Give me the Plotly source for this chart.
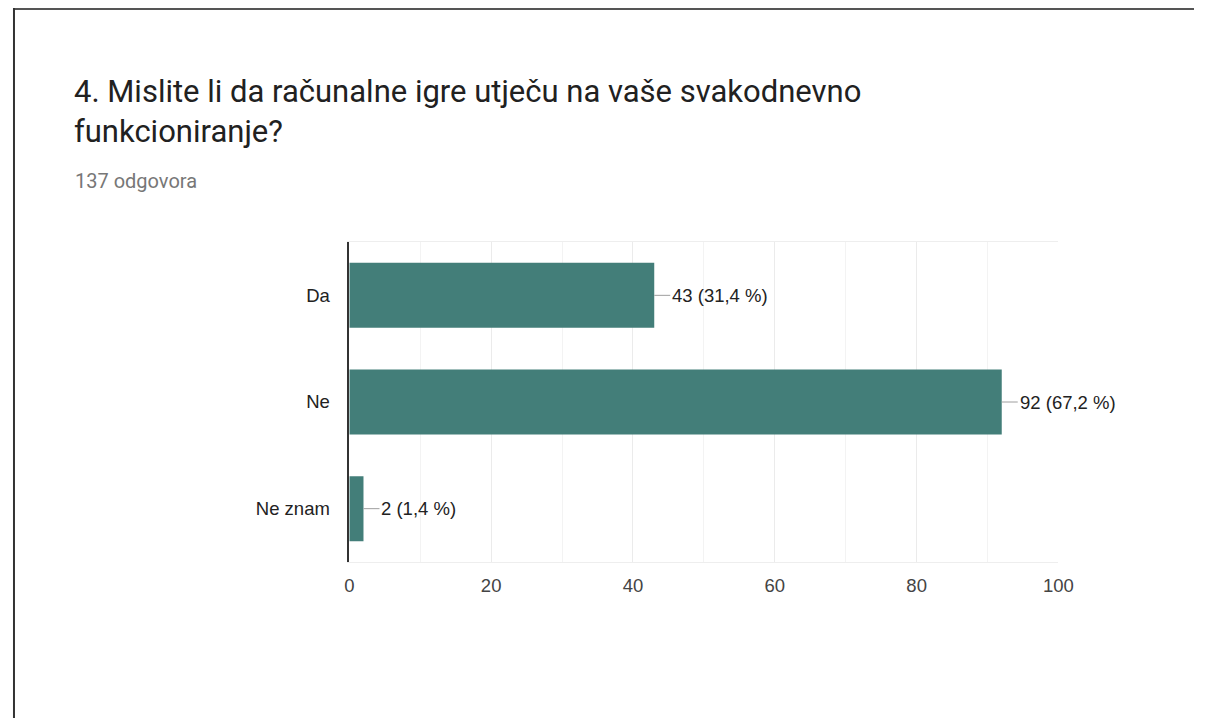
import plotly.graph_objects as go

categories = ["Da", "Ne", "Ne znam"]
counts = [43, 92, 2]
percents = [31.4, 67.2, 1.4]
x_ticks = [0, 20, 40, 60, 80, 100]

title_line1 = "4. Mislite li da računalne igre utječu na vaše svakodnevno"
title_line2 = "funkcioniranje?"
subtitle = "137 odgovora"

OFF = 8
W, H = 1217 - 2 * OFF, 726 - 2 * OFF
BAR = "#437e79"

# empirical mapping from figure pixels to the photographed page
SX, BX = 0.9845, 11.3


def px(p):
    return ((p - BX) / SX) / W


def py(p):
    return 1 - (p - OFF) / H


fig = go.Figure()
fig.add_trace(go.Bar(
    y=categories, x=counts, orientation="h",
    marker=dict(color=BAR, line=dict(width=0)),
    hoverinfo="skip",
))

labels = [f"{c} ({str(p).replace('.', ',')} %)" for c, p in zip(counts, percents)]
for cat, c, lab in zip(categories, counts, labels):
    fig.add_annotation(
        x=c, y=cat, xref="x", yref="y", text=lab,
        showarrow=True, arrowhead=0, arrowwidth=1, arrowcolor="#9e9e9e",
        ax=16, ay=0, xanchor="left", yanchor="middle",
        font=dict(family="Arial", size=18.5, color="#222222"),
    )

fig.add_annotation(x=px(70), y=py(92), xref="paper", yref="paper", text=title_line1,
                   showarrow=False, xanchor="left", yanchor="middle",
                   font=dict(family="Roboto", size=31, color="#212121"))
fig.add_annotation(x=px(70), y=py(132), xref="paper", yref="paper", text=title_line2,
                   showarrow=False, xanchor="left", yanchor="middle",
                   font=dict(family="Roboto", size=31, color="#212121"))
fig.add_annotation(x=px(71), y=py(181), xref="paper", yref="paper", text=subtitle,
                   showarrow=False, xanchor="left", yanchor="middle",
                   font=dict(family="Roboto", size=20, color="#777777"))

# outer frame (top and left edges), as close to the page corner as the figure allows
fig.add_shape(type="line", xref="paper", yref="paper", x0=0, x1=1, y0=py(9), y1=py(9),
              line=dict(color="#555555", width=2))
fig.add_shape(type="line", xref="paper", yref="paper", x0=1 / W, x1=1 / W, y0=0, y1=py(8),
              line=dict(color="#333333", width=2))

fig.update_layout(
    width=W, height=H,
    margin=dict(l=0, r=0, t=0, b=0),
    paper_bgcolor="white", plot_bgcolor="white",
    showlegend=False, bargap=0.39,
    xaxis=dict(
        domain=[px(348), px(1058)], range=[0, 100],
        tickvals=x_ticks, ticktext=[str(v) for v in x_ticks],
        showgrid=True, gridcolor="#ebebeb", gridwidth=1,
        minor=dict(dtick=10, showgrid=True, gridcolor="#f3f3f3", gridwidth=1),
        zeroline=False, showline=True, linecolor="#eeeeee", linewidth=1, mirror=True,
        ticks="outside", ticklen=7, tickcolor="rgba(0,0,0,0)",
        tickfont=dict(family="Arial", size=18.5, color="#444444"),
        fixedrange=True,
    ),
    yaxis=dict(
        domain=[py(562), py(242)],
        categoryorder="array", categoryarray=categories, autorange="reversed",
        showgrid=False, zeroline=False,
        showline=True, linecolor="#333333", linewidth=1.5,
        ticks="outside", ticklen=14, tickcolor="rgba(0,0,0,0)",
        tickfont=dict(family="Arial", size=18.5, color="#222222"),
        fixedrange=True,
    ),
)

fig.write_html("out.html")
